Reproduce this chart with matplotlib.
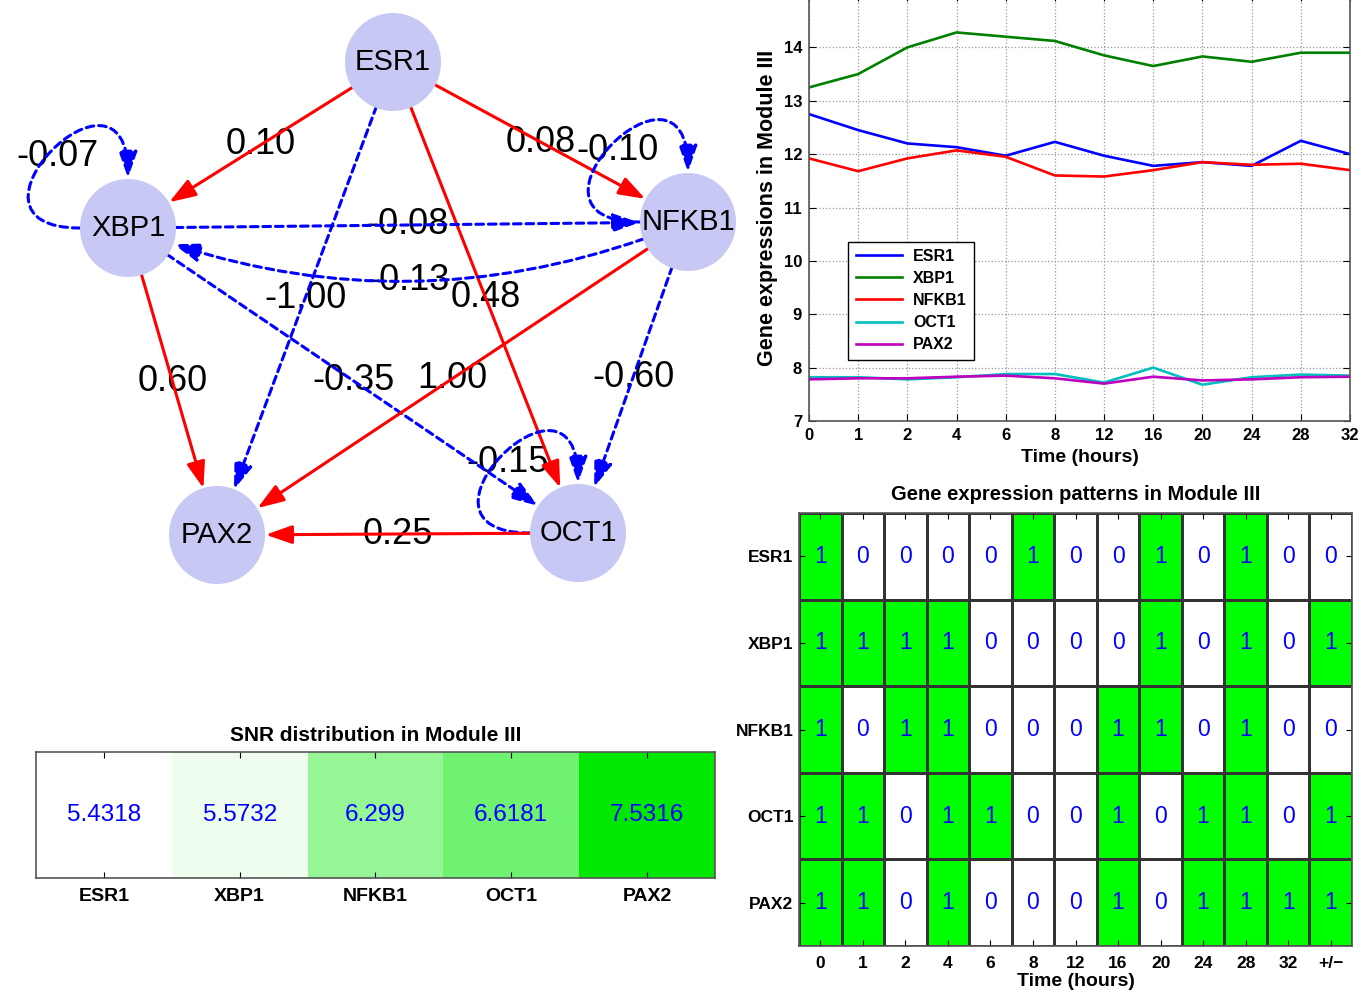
import numpy as np
import matplotlib
matplotlib.use('Agg')
import matplotlib.pyplot as plt
from matplotlib.patches import Ellipse, FancyArrowPatch
from matplotlib.path import Path
from matplotlib.colors import ListedColormap, LinearSegmentedColormap

plt.rcParams['font.family'] = ['Liberation Sans', 'DejaVu Sans']

# ---- network (node layout in pixel units of the panel) ----
nodes = ['ESR1', 'XBP1', 'NFKB1', 'OCT1', 'PAX2']
node_x = [393, 128, 688, 578, 217]
node_y = [62, 228, 222, 533, 535]

edge_src = ['ESR1', 'ESR1', 'ESR1', 'ESR1', 'XBP1', 'NFKB1', 'XBP1', 'NFKB1',
            'XBP1', 'XBP1', 'NFKB1', 'NFKB1', 'OCT1', 'OCT1']
edge_dst = ['XBP1', 'NFKB1', 'OCT1', 'PAX2', 'XBP1', 'NFKB1', 'NFKB1', 'XBP1',
            'PAX2', 'OCT1', 'PAX2', 'OCT1', 'OCT1', 'PAX2']
edge_w = [0.10, 0.08, 0.48, -1.00, -0.07, -0.10, -0.08, -0.13,
          0.60, -0.35, 1.00, -0.60, -0.15, 0.25]
edge_rad = [0, 0, 0, 0, 0, 0, 0, -0.2, 0, 0, 0, 0, 0, 0]

# ---- time course ----
time_labels = ['0', '1', '2', '4', '6', '8', '12', '16', '20', '24', '28', '32']
esr1_expr = [12.75, 12.45, 12.2, 12.13, 11.97, 12.23, 11.97, 11.78, 11.85, 11.78, 12.25, 12.0]
xbp1_expr = [13.25, 13.5, 14.0, 14.28, 14.2, 14.12, 13.85, 13.65, 13.83, 13.73, 13.9, 13.9]
nfkb1_expr = [11.92, 11.68, 11.92, 12.07, 11.95, 11.6, 11.58, 11.7, 11.85, 11.8, 11.82, 11.7]
oct1_expr = [7.82, 7.82, 7.78, 7.82, 7.88, 7.88, 7.72, 8.0, 7.68, 7.82, 7.87, 7.85]
pax2_expr = [7.78, 7.8, 7.8, 7.83, 7.85, 7.8, 7.7, 7.83, 7.76, 7.78, 7.82, 7.83]
line_colors = ['#0000ff', '#008000', '#ff0000', '#00bfbf', '#bf00bf']

# ---- binary patterns ----
pattern_cols = time_labels + ['+/\u2212']
patterns = [
    [1, 0, 0, 0, 0, 1, 0, 0, 1, 0, 1, 0, 0],
    [1, 1, 1, 1, 0, 0, 0, 0, 1, 0, 1, 0, 1],
    [1, 0, 1, 1, 0, 0, 0, 1, 1, 0, 1, 0, 0],
    [1, 1, 0, 1, 1, 0, 0, 1, 0, 1, 1, 0, 1],
    [1, 1, 0, 1, 0, 0, 0, 1, 0, 1, 1, 1, 1],
]

# ---- SNR ----
snr_values = [5.4318, 5.5732, 6.299, 6.6181, 7.5316]
snr_labels = ['5.4318', '5.5732', '6.299', '6.6181', '7.5316']

fig = plt.figure(figsize=(13.63, 9.94), dpi=100)


def bold_ticks(ax):
    for lbl in ax.get_xticklabels() + ax.get_yticklabels():
        lbl.set_fontweight('bold')


def grey_box(ax):
    for sp in ax.spines.values():
        sp.set_color('#555555')
        sp.set_linewidth(1.2)


# network panel
axn = fig.add_axes([0, 1 - 600 / 994, 740 / 1363, 600 / 994])
axn.set_xlim(0, 740)
axn.set_ylim(600, 0)
axn.axis('off')
pos = {n: (x, y) for n, x, y in zip(nodes, node_x, node_y)}
node_r = 48

for s, d, w, rad in zip(edge_src, edge_dst, edge_w, edge_rad):
    col = '#ff0000' if w > 0 else '#0000ff'
    ls = '-' if w > 0 else (0, (2.5, 1.6))
    style = '-|>,head_length=0.8,head_width=0.28'
    x0, y0 = pos[s]
    if s == d:
        a = 140
        verts = [(x0 - node_r, y0), (x0 - node_r - a, y0), (x0, y0 - node_r - a), (x0, y0 - node_r - 2)]
        path = Path(verts, [Path.MOVETO, Path.CURVE4, Path.CURVE4, Path.CURVE4])
        arr = FancyArrowPatch(path=path, arrowstyle=style, mutation_scale=20,
                              color=col, lw=2.2, linestyle=ls, zorder=2)
        axn.add_patch(arr)
        lx, ly = x0 - 70, y0 - 71
    else:
        x1, y1 = pos[d]
        arr = FancyArrowPatch((x0, y0), (x1, y1), arrowstyle=style, mutation_scale=20,
                              connectionstyle=f'arc3,rad={rad}', shrinkA=34, shrinkB=35,
                              color=col, lw=2.2, linestyle=ls, zorder=2)
        axn.add_patch(arr)
        # label at the middle of the (possibly curved) edge; y axis is inverted
        lx = (x0 + x1) / 2 - 0.5 * rad * (y1 - y0)
        ly = (y0 + y1) / 2 + 0.5 * rad * (x1 - x0)
    axn.text(lx, ly, f'{w:.2f}', fontsize=26, ha='center', va='center', zorder=1)

for n in nodes:
    x, y = pos[n]
    axn.add_patch(Ellipse((x, y), 2 * node_r, 2 * node_r + 2, color='#c8c8f5', zorder=3, lw=0))
    axn.text(x, y, n, fontsize=21, ha='center', va='center', zorder=4)

# time course panel
axl = fig.add_axes([809 / 1363, 1 - 421 / 994, 541 / 1363, 427 / 994])
xs = np.arange(len(time_labels))
series = [esr1_expr, xbp1_expr, nfkb1_expr, oct1_expr, pax2_expr]
for name, vals, col in zip(nodes, series, line_colors):
    axl.plot(xs, vals, color=col, lw=1.9, label=name)
axl.set_xlim(0, len(time_labels) - 1)
axl.set_ylim(7, 15)
axl.set_xticks(xs, time_labels)
axl.set_yticks(range(7, 16))
axl.grid(True, linestyle=':', color='#999999', lw=0.9)
axl.tick_params(direction='in', top=True, right=True, labelsize=12, length=5, pad=5)
bold_ticks(axl)
axl.set_xlabel('Time (hours)', fontsize=14, fontweight='bold', labelpad=4)
axl.set_ylabel('Gene expressions in Module III', fontsize=15.5, fontweight='bold', labelpad=4)
leg = axl.legend(loc='lower left', bbox_to_anchor=(0.058, 0.125), fancybox=False,
                 edgecolor='black', framealpha=1, handlelength=2.9, handletextpad=0.7,
                 prop={'weight': 'bold', 'size': 11.5}, labelspacing=0.45, borderpad=0.45)
leg.get_frame().set_linewidth(1.0)
grey_box(axl)

# binary pattern panel
axh = fig.add_axes([799 / 1363, 1 - 946 / 994, 553 / 1363, 433 / 994])
pat = np.array(patterns)
axh.pcolormesh(pat, cmap=ListedColormap(['white', '#00ff00']), vmin=0, vmax=1,
               edgecolors='#333333', linewidth=1.0)
axh.set_xlim(0, pat.shape[1])
axh.set_ylim(pat.shape[0], 0)
axh.set_xticks(np.arange(pat.shape[1]) + 0.5, pattern_cols)
axh.set_yticks(np.arange(pat.shape[0]) + 0.5, nodes)
axh.tick_params(direction='in', top=True, right=True, labelsize=12.5, length=4, pad=4)
axh.tick_params(axis='x', pad=7)
bold_ticks(axh)
for i in range(pat.shape[0]):
    for j in range(pat.shape[1]):
        axh.text(j + 0.5, i + 0.5, str(pat[i, j]), color='#0000ff', fontsize=16.5,
                 ha='center', va='center')
axh.set_title('Gene expression patterns in Module III', fontsize=14.5, fontweight='bold', pad=9)
axh.set_xlabel('Time (hours)', fontsize=14, fontweight='bold', labelpad=2)
grey_box(axh)

# SNR panel
axs = fig.add_axes([36 / 1363, 1 - 878 / 994, 679 / 1363, 126 / 994])
snr = np.array([snr_values])
axs.pcolormesh(snr, cmap=LinearSegmentedColormap.from_list('wg', ['white', '#00e800']),
               vmin=min(snr_values), vmax=max(snr_values))
axs.set_xlim(0, len(snr_values))
axs.set_ylim(1, 0)
axs.set_xticks(np.arange(len(snr_values)) + 0.5, nodes)
axs.set_yticks([])
axs.tick_params(direction='in', top=True, labelsize=14, length=4, pad=7)
bold_ticks(axs)
for j, t in enumerate(snr_labels):
    axs.text(j + 0.5, 0.5, t, color='#0000ff', fontsize=17.5, ha='center', va='center')
axs.set_title('SNR distribution in Module III', fontsize=15, fontweight='bold', pad=8)
grey_box(axs)

fig.savefig('out.png', dpi=100)
